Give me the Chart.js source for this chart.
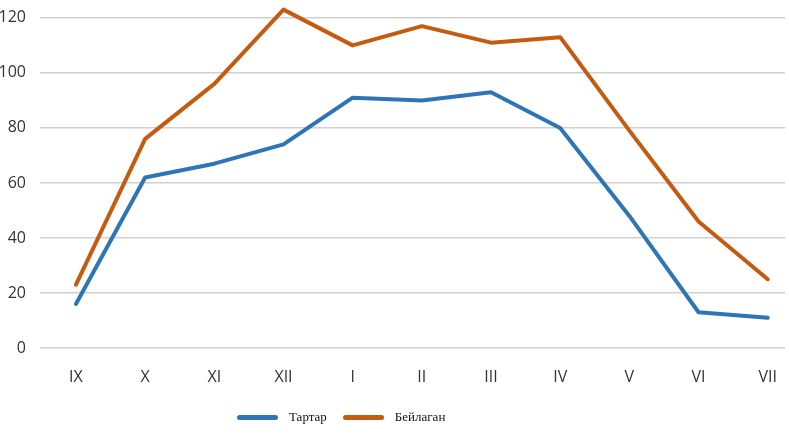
<!DOCTYPE html>
<html>
<head>
<meta charset="utf-8">
<script src="https://cdn.jsdelivr.net/npm/chart.js@4"></script>
<style>
  html, body { margin: 0; padding: 0; background: #fff; }
  #wrap { position: relative; width: 789px; height: 439px; }
  #legend { position: absolute; top: 409px; left: 237px; font-family: 'Liberation Serif', serif; font-size: 13px; color: #111; display: flex; align-items: center; }
  .item { display: flex; align-items: center; margin-right: 16px; }
  .swatch { width: 41px; height: 5px; border-radius: 3px; margin-right: 11px; }
</style>
</head>
<body>
<div id="wrap">
  <canvas id="chart" width="789" height="439"></canvas>
  <div id="legend"></div>
</div>
<script>
const months = ['IX', 'X', 'XI', 'XII', 'I', 'II', 'III', 'IV', 'V', 'VI', 'VII'];
const tartar = [16, 62, 67, 74, 91, 90, 93, 80, 48, 13, 11];
const beylagan = [23, 76, 96, 123, 110, 117, 111, 113, 79, 46, 25];
const yTicks = [0, 20, 40, 60, 80, 100, 120];
const seriesNames = ['Тартар', 'Бейлаган'];
const seriesColors = ['#2e75b6', '#c55a11'];

const toPoints = arr => arr.map((v, i) => ({ x: i, y: v }));

const ctx = document.getElementById('chart').getContext('2d');

new Chart(ctx, {
    type: 'line',
    data: {
        datasets: [tartar, beylagan].map((d, i) => ({
            label: seriesNames[i],
            data: toPoints(d),
            borderColor: seriesColors[i],
            backgroundColor: seriesColors[i],
            borderWidth: 4,
            pointRadius: 0,
            tension: 0,
            borderCapStyle: 'round',
            borderJoinStyle: 'round'
        }))
    },
    options: {
        responsive: false,
        animation: false,
        layout: { padding: { top: 0, right: 4, left: 0, bottom: 0 } },
        plugins: {
            legend: { display: false },
            tooltip: { enabled: false }
        },
        scales: {
            x: {
                type: 'linear',
                min: -0.52,
                max: 10.25,
                afterBuildTicks: axis => {
                    axis.ticks = months.map((m, i) => ({ value: i }));
                },
                afterFit: axis => {
                    axis.height = 91;
                    axis.paddingLeft = 0;
                    axis.paddingRight = 0;
                },
                grid: { display: false },
                border: { display: false },
                ticks: {
                    callback: v => months[v],
                    color: '#333',
                    padding: 12,
                    maxRotation: 0,
                    font: { family: 'Open Sans, sans-serif', size: 16 }
                }
            },
            y: {
                min: 0,
                max: 126.5,
                afterBuildTicks: axis => {
                    axis.ticks = yTicks.map(v => ({ value: v }));
                },
                afterFit: axis => {
                    axis.width = 40;
                    axis.paddingTop = 0;
                    axis.paddingBottom = 0;
                },
                grid: { color: '#d0d0d0', lineWidth: 1.5, drawTicks: false },
                border: { display: false },
                ticks: {
                    color: '#333',
                    padding: 14,
                    font: { family: 'Open Sans, sans-serif', size: 16 }
                }
            }
        }
    }
});

// legend built as html so it can sit left of centre like the original
const legend = document.getElementById('legend');
seriesNames.forEach((name, i) => {
    const item = document.createElement('div');
    item.className = 'item';
    const sw = document.createElement('div');
    sw.className = 'swatch';
    sw.style.background = seriesColors[i];
    const label = document.createElement('span');
    label.textContent = name;
    item.appendChild(sw);
    item.appendChild(label);
    legend.appendChild(item);
});
</script>
</body>
</html>
